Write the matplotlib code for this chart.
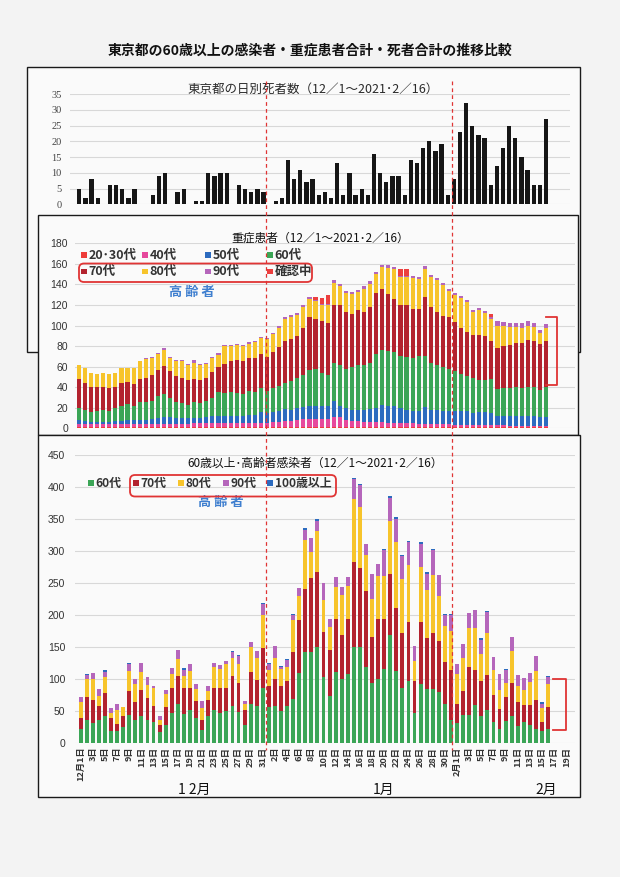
import matplotlib
matplotlib.use("Agg")
import matplotlib.pyplot as plt
from matplotlib.patches import Rectangle, FancyBboxPatch
from matplotlib.lines import Line2D

plt.rcParams['font.family'] = ['Noto Sans CJK JP', 'DejaVu Sans']

# ---------------- data ----------------
# daily deaths (panel 1), from the first bar on the left
deaths = [5, 2, 8, 2, 0, 6, 6, 5, 2, 5, 0, 0, 3, 9, 10, 0, 4, 5, 0, 1,
          1, 10, 9, 10, 10, 0, 6, 5, 4, 5, 4, 0, 1, 2, 14, 8, 11, 7, 8, 3,
          4, 2, 13, 3, 10, 3, 5, 3, 16, 10, 7, 9, 9, 3, 14, 13, 18, 20, 17, 19,
          3, 8, 23, 32, 25, 22, 21, 6, 12, 18, 25, 21, 15, 11, 6, 6, 27]

# severe patients by age (panel 2), 12/1 .. 2/16
sev_2030 = [1] * 78
sev_40 = [3, 3, 3, 3, 3, 3, 3, 3, 3, 3, 3, 3, 3, 3, 3, 3, 3, 3, 3, 4,
          4, 4, 4, 4, 4, 4, 4, 4, 4, 4, 4, 4, 5, 5, 6, 6, 7, 8, 8, 8,
          8, 8, 10, 10, 7, 6, 6, 5, 5, 5, 5, 4, 4, 4, 4, 4, 3, 3, 3, 3,
          3, 3, 2, 2, 2, 2, 2, 2, 2, 2, 2, 1, 1, 1, 1, 1, 1, 1]
sev_50 = [4, 3, 2, 2, 2, 2, 3, 3, 4, 4, 4, 4, 5, 6, 7, 7, 6, 6, 6, 5,
          5, 6, 7, 7, 7, 7, 7, 7, 8, 8, 11, 10, 10, 11, 12, 11, 12, 12, 13, 13,
          13, 13, 16, 11, 12, 11, 11, 12, 13, 14, 17, 17, 17, 15, 13, 12, 13, 17, 14, 14,
          13, 13, 14, 14, 14, 12, 13, 13, 12, 9, 9, 10, 10, 10, 10, 10, 9, 9]
sev_60 = [12, 11, 10, 11, 12, 11, 13, 15, 16, 14, 18, 18, 18, 21, 22, 18, 16, 15, 13, 16,
          15, 16, 17, 23, 22, 23, 22, 21, 23, 22, 23, 21, 23, 24, 25, 28, 29, 31, 35, 36,
          32, 30, 37, 40, 38, 42, 44, 44, 45, 52, 53, 53, 52, 50, 51, 51, 53, 49, 46, 44,
          43, 41, 39, 36, 34, 34, 31, 31, 33, 26, 27, 27, 28, 27, 28, 28, 26, 29]
sev_70 = [28, 26, 24, 23, 22, 22, 20, 22, 21, 21, 22, 23, 25, 26, 28, 27, 25, 24, 24, 22,
          22, 22, 26, 25, 29, 30, 32, 32, 32, 33, 33, 33, 35, 38, 41, 41, 41, 46, 51, 48,
          50, 50, 56, 58, 55, 51, 53, 51, 54, 60, 60, 56, 52, 50, 51, 48, 46, 58, 54, 51,
          49, 50, 47, 45, 43, 42, 44, 43, 37, 40, 41, 42, 43, 44, 46, 45, 45, 45]
sev_80 = [14, 15, 14, 13, 14, 14, 14, 15, 14, 16, 17, 18, 16, 15, 15, 12, 14, 16, 15, 16,
          15, 14, 13, 11, 17, 15, 15, 15, 14, 16, 16, 18, 18, 19, 21, 21, 20, 20, 18, 18,
          16, 18, 21, 18, 19, 20, 18, 23, 22, 18, 21, 25, 29, 27, 27, 30, 29, 27, 29, 31,
          30, 26, 27, 29, 29, 22, 24, 22, 21, 22, 20, 18, 16, 15, 14, 14, 11, 13]
sev_90 = [0, 0, 0, 0, 0, 0, 0, 0, 0, 0, 0, 1, 1, 1, 2, 1, 1, 1, 1, 2,
          1, 1, 1, 2, 1, 1, 1, 1, 2, 1, 1, 1, 1, 2, 2, 2, 2, 2, 2, 1,
          1, 1, 3, 2, 2, 2, 2, 2, 3, 2, 2, 3, 2, 1, 1, 2, 2, 3, 2, 2,
          2, 2, 2, 2, 2, 2, 2, 2, 2, 4, 3, 3, 3, 4, 4, 3, 3, 3]
sev_kak = [0, 0, 0, 0, 0, 0, 0, 0, 0, 0, 0, 0, 0, 0, 0, 0, 0, 0, 0, 0,
           0, 0, 0, 0, 0, 0, 0, 0, 0, 0, 0, 0, 0, 0, 0, 0, 0, 0, 0, 3,
           6, 9, 0, 0, 0, 0, 0, 0, 0, 0, 0, 0, 0, 7, 7, 0, 0, 0, 0, 0,
           0, 0, 0, 0, 0, 0, 0, 0, 3, 0, 0, 0, 0, 0, 0, 0, 0, 0]

# infections aged 60+ (panel 3), 12/1 .. 2/16
inf_60 = [22, 36, 31, 36, 43, 20, 19, 26, 45, 36, 42, 36, 34, 18, 29, 48, 61, 46, 52, 39,
          21, 42, 52, 48, 50, 59, 49, 28, 62, 58, 87, 57, 58, 51, 58, 70, 110, 143, 143, 150,
          104, 74, 112, 100, 108, 150, 150, 120, 95, 100, 116, 170, 113, 86, 98, 47, 93, 85, 85, 80,
          62, 37, 31, 45, 45, 60, 42, 52, 33, 23, 35, 43, 27, 33, 29, 23, 19, 22]
inf_70 = [18, 36, 36, 22, 36, 19, 11, 16, 37, 28, 41, 35, 25, 10, 27, 38, 44, 40, 34, 27,
          16, 25, 35, 38, 36, 46, 45, 24, 49, 41, 62, 32, 42, 39, 39, 73, 83, 98, 115, 118,
          70, 72, 82, 70, 86, 133, 124, 118, 71, 95, 79, 95, 99, 87, 92, 51, 97, 79, 87, 80,
          65, 78, 31, 37, 75, 55, 56, 55, 43, 31, 37, 52, 38, 27, 31, 44, 15, 35]
inf_80 = [25, 28, 33, 16, 25, 8, 22, 14, 31, 28, 29, 20, 27, 8, 21, 22, 26, 19, 27, 19,
          18, 15, 33, 30, 38, 28, 30, 10, 40, 34, 51, 25, 34, 26, 23, 49, 37, 76, 41, 64,
          50, 36, 51, 62, 52, 99, 96, 57, 59, 67, 67, 83, 103, 84, 88, 30, 85, 76, 91, 70,
          56, 60, 46, 51, 60, 65, 42, 65, 39, 30, 23, 50, 25, 23, 36, 46, 21, 36]
inf_90 = [7, 6, 10, 11, 8, 8, 9, 0, 11, 8, 14, 12, 3, 6, 7, 10, 15, 10, 11, 7,
          11, 8, 6, 6, 5, 10, 12, 4, 7, 12, 18, 10, 18, 4, 10, 8, 13, 17, 21, 16,
          26, 12, 15, 12, 14, 31, 33, 17, 40, 18, 40, 35, 35, 36, 37, 24, 37, 25, 39, 33,
          17, 25, 16, 22, 23, 28, 22, 33, 20, 24, 20, 21, 16, 19, 14, 23, 7, 10]
inf_100 = [0, 2, 0, 0, 2, 0, 0, 0, 2, 0, 0, 0, 0, 0, 0, 0, 0, 2, 0, 0,
           0, 0, 0, 0, 0, 2, 2, 0, 0, 0, 2, 2, 0, 1, 2, 2, 0, 3, 0, 2,
           1, 0, 0, 0, 0, 2, 2, 0, 0, 0, 1, 3, 3, 2, 1, 0, 2, 2, 2, 0,
           2, 2, 0, 0, 0, 0, 2, 2, 0, 1, 1, 0, 0, 0, 0, 0, 2, 2]

# x tick labels of panel 3 (every second day, 12/1 .. 2/19)
xlabels = ['12月1日', '3日', '5日', '7日', '9日', '11日', '13日', '15日', '17日', '19日',
           '21日', '23日', '25日', '27日', '29日', '31日',
           '2日', '4日', '6日', '8日', '10日', '12日', '14日', '16日', '18日', '20日',
           '22日', '24日', '26日', '28日', '30日',
           '2月1日', '3日', '5日', '7日', '9日', '11日', '13日', '15日', '17日', '19日']
n_slots = 81
months = ['1 2月', '1月', '2月']

title = '東京都の60歳以上の感染者・重症患者合計・死者合計の推移比較'
t1 = '東京都の日別死者数（12／1～2021･2／16）'
t2 = '重症患者（12／1～2021･2／16）'
t3 = '60歳以上･高齢者感染者（12／1～2021･2／16）'

sev_names = ['20･30代', '40代', '50代', '60代', '70代', '80代', '90代', '確認中']
inf_names = ['60代', '70代', '80代', '90代', '100歳以上']

C = dict(r2030='#ee3d3a', p40='#e6489c', b50='#2c6bbf', g60='#3ba556',
         r70='#b3222e', y80='#f7c42b', v90='#b566bb', kak='#ec3f3f', b100='#2c6bbf')
RED = '#e03434'
BLUE_TXT = '#3f7fcf'

# ---------------- figure ----------------
W, H = 620, 877
fig = plt.figure(figsize=(6.2, 8.77), dpi=100)
fig.patch.set_facecolor('#f3f3f3')
IT = fig.dpi_scale_trans


def inch(x, y):
    return x / 100.0, (H - y) / 100.0


def panel_box(x0, y0, x1, y1, z):
    fig.add_artist(Rectangle(inch(x0, y1), (x1 - x0) / 100.0, (y1 - y0) / 100.0,
                             transform=IT, facecolor='#fafafa', edgecolor='#1a1a1a',
                             linewidth=1.0, zorder=z))


def make_ax(l, t, r, b, z):
    ax = fig.add_axes([l / W, 1 - b / H, (r - l) / W, (b - t) / H])
    ax.set_zorder(z)
    ax.patch.set_visible(False)
    for s in ax.spines.values():
        s.set_visible(False)
    ax.tick_params(length=0)
    ax.yaxis.grid(True, color='#d8d8d8', linewidth=0.8)
    ax.set_axisbelow(True)
    return ax


def ftext(x, y, s, **kw):
    return fig.text(x / 100.0, (H - y) / 100.0, s, transform=IT, **kw)


def legend_item(x, y, color, label, fs=9):
    s = 5.5
    fig.add_artist(Rectangle(inch(x - s / 2, y + s / 2), s / 100.0, s / 100.0,
                             transform=IT, facecolor=color, edgecolor='none', zorder=4))
    ftext(x + 4.5, y, label, fontsize=fs, fontweight='bold', color='#333333',
          ha='left', va='center')


def round_box(x0, y0, x1, y1):
    fig.add_artist(FancyBboxPatch(inch(x0, y1), (x1 - x0) / 100.0, (y1 - y0) / 100.0,
                                  boxstyle='round,pad=0,rounding_size=0.05',
                                  transform=IT, fill=False, edgecolor=RED,
                                  linewidth=1.3, zorder=4))


ftext(310, 51, title, fontsize=10, fontweight='bold', color='#111111',
      ha='center', va='center')

# ---------- panel 1 ----------
panel_box(27, 67, 580, 352, 0.1)
ax1 = make_ax(70, 94, 570, 204.3, 0.2)
x1 = list(range(len(deaths)))
ax1.bar(x1, deaths, width=0.7, color='#161616', linewidth=0)
ax1.set_xlim((70 - 79.3) / 6.14, (570 - 79.3) / 6.14)
ax1.set_ylim(0, 35)
ax1.set_yticks(range(0, 36, 5))
ax1.set_xticks([])
ax1.tick_params(axis='y', pad=6)
for lb in ax1.get_yticklabels():
    lb.set_fontfamily('Liberation Serif')
    lb.set_fontsize(7.5)
    lb.set_color('#444444')
ftext(313, 89, t1, fontsize=9, color='#2a2a2a', ha='center', va='center')

# ---------- panel 2 ----------
panel_box(38, 215, 578, 435, 0.3)
ax2 = make_ax(75, 243.3, 575, 428.3, 0.4)
x2 = list(range(len(sev_60)))
sev_series = [sev_2030, sev_40, sev_50, sev_60, sev_70, sev_80, sev_90, sev_kak]
sev_cols = [C['r2030'], C['p40'], C['b50'], C['g60'], C['r70'], C['y80'], C['v90'], C['kak']]
bottom = [0] * len(x2)
for vals, col in zip(sev_series, sev_cols):
    ax2.bar(x2, vals, bottom=bottom, width=0.68, color=col, linewidth=0)
    bottom = [b + v for b, v in zip(bottom, vals)]
ax2.set_xlim((75 - 79) / 6.065, (575 - 79) / 6.065)
ax2.set_ylim(0, 180)
ax2.set_yticks(range(0, 181, 20))
ax2.set_xticks([])
ax2.tick_params(axis='y', pad=5)
for lb in ax2.get_yticklabels():
    lb.set_fontfamily('Liberation Sans')
    lb.set_fontsize(7.5)
    lb.set_color('#333333')
ax2.plot([77.0, 78.8, 78.8, 77.0], [42, 42, 108, 108], color=RED, lw=1.3,
         clip_on=False, zorder=5)
ftext(320, 238, t2, fontsize=8.5, color='#111111', ha='center', va='center')
leg2_x = [84, 145, 208, 270]
for i, (nm, col) in enumerate(zip(sev_names, sev_cols)):
    legend_item(leg2_x[i % 4], 255 if i < 4 else 271.5, col, nm)
round_box(79, 263.5, 312, 282)
ftext(192, 292, '高 齢 者', fontsize=9.5, fontweight='bold', color=BLUE_TXT,
      ha='center', va='center')

# ---------- panel 3 ----------
panel_box(38, 435, 580, 797, 0.5)
ax3 = make_ax(75, 455.3, 575, 743.3, 0.6)
x3 = list(range(len(inf_60)))
inf_series = [inf_60, inf_70, inf_80, inf_90, inf_100]
inf_cols = [C['g60'], C['r70'], C['y80'], C['v90'], C['b100']]
bottom = [0] * len(x3)
for vals, col in zip(inf_series, inf_cols):
    ax3.bar(x3, vals, bottom=bottom, width=0.64, color=col, linewidth=0)
    bottom = [b + v for b, v in zip(bottom, vals)]
ax3.set_xlim((75 - 80.7) / 6.07, (575 - 80.7) / 6.07)
ax3.set_ylim(0, 450)
ax3.set_yticks(range(0, 451, 50))
ax3.set_xticks(list(range(0, n_slots, 2)))
ax3.set_xticklabels(xlabels, rotation=90, fontsize=6.6, fontweight='bold',
                    color='#333333', va='top', ha='center')
ax3.tick_params(axis='x', pad=2.5)
ax3.tick_params(axis='y', pad=7)
for lb in ax3.get_yticklabels():
    lb.set_fontfamily('Liberation Sans')
    lb.set_fontsize(7.5)
    lb.set_color('#333333')
ax3.plot([77.8, 79.95, 79.95, 77.8], [21, 21, 101, 101], color=RED, lw=1.3,
         clip_on=False, zorder=5)
ftext(315, 463, t3, fontsize=8.5, color='#111111', ha='center', va='center')
leg3_x = [91, 136, 181, 226, 270]
for nm, col, lx in zip(inf_names, inf_cols, leg3_x):
    legend_item(lx, 483, col, nm, fs=8.6)
round_box(130, 475, 336, 496.5)
ftext(221, 502, '高 齢 者', fontsize=9.5, fontweight='bold', color=BLUE_TXT,
      ha='center', va='center')

for mx, lbl in zip([194, 384, 546], months):
    ftext(mx, 790, lbl, fontsize=10, color='#111111', ha='center', va='center')

# ---------- red dashed month separators ----------
for xd in (30.6, 61.2):
    xin = ax3.transData.transform((xd, 0))[0] / fig.dpi
    fig.add_artist(Line2D([xin, xin], [(H - 81) / 100.0, (H - 750) / 100.0],
                          transform=IT, color=RED, lw=0.9,
                          linestyle=(0, (3, 2.5)), zorder=6))

fig.savefig('out.png', dpi=100, facecolor=fig.get_facecolor())
